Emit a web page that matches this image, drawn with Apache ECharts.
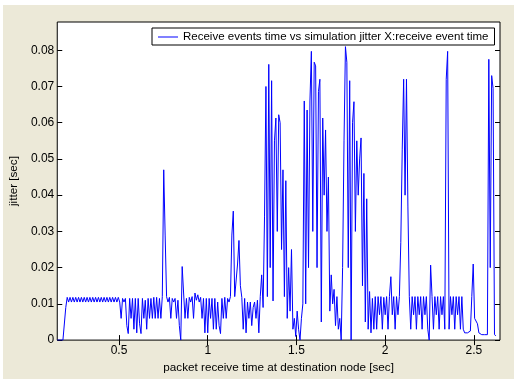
<!DOCTYPE html>
<html>
<head>
<meta charset="utf-8">
<script src="https://cdn.jsdelivr.net/npm/echarts@6/dist/echarts.min.js"></script>
<style>
html,body{margin:0;padding:0;background:#fff;}
#c{width:514px;height:379px;}
</style>
</head>
<body>
<div id="c"></div>
<script>
// sample times: start and step (sec)
const tStart = 0.152;
const tStep = 0.008;
// jitter values [sec], one per sample
const jitter = [
0,0,0,0,0,0,0.009,
0.0118,0.0105,0.0118,0.0105,0.0118,0.0105,0.0118,0.0105,0.0118,0.0105,
0.0118,0.0105,0.0118,0.0105,0.0118,0.0105,0.0118,0.0105,0.0118,0.0105,
0.0118,0.0105,0.0118,0.0105,0.0118,0.0105,0.0118,0.0105,0.0118,0.0105,
0.0118,0.0105,0.0118,0.0105,0.0118,0.0105,0.0118,0.0105,
0.006,0.0115,0.0105,0.0115,0.004,0.0018,0.0115,0.006,0.0115,0.003,
0.0115,0.002,0.0115,0.0045,0.0018,0.0115,0.006,0.011,0.003,0.0115,
0.006,0.0115,0.006,0.0118,0.006,0.0118,0.006,0.0115,0.006,0.012,
0.047,0.029,0.012,0.0105,0.0118,0.006,0.0115,0.0105,0.0115,0.006,
0.011,0.004,0.0,0.0203,0.013,0.006,0.0115,0.006,0.0118,0.0105,
0.012,0.006,0.013,0.011,0.0125,0.0105,0.0118,0.006,0.0115,0.002,
0.0115,0.002,0.0115,0.006,0.0115,0.003,0.0115,0.003,0.0105,0.004,
0.0018,0.0115,0.006,0.0118,0.006,0.0115,0.0105,0.012,0.029,0.0356,
0.012,0.0115,0.021,0.0275,0.015,0.0118,0.003,0.0115,0.002,0.0105,
0.006,0.0105,0.004,0.009,0.0105,0.006,0.011,0.002,0.012,0.018,
0.009,0.034,0.07,0.012,0.0761,0.02,0.0716,0.0108,0.055,0.0613,
0.03,0.0622,0.06,0.025,0.047,0.012,0.044,0.006,0.02,0.008,
0.025,0.003,0.006,0.001,0.008,0.003,0.0,0.006,0.01,0.066,
0.01,0.0635,0.02,0.066,0.0797,0.03,0.0767,0.0757,0.02,0.0686,
0.072,0.005,0.0613,0.04,0.058,0.03,0.045,0.008,0.018,0.01,
0.014,0.004,0.012,0.003,0.006,0.0,0.02,0.055,0.081,0.0767,
0.02,0.0716,0.0,0.06,0.0658,0.03,0.055,0.04,0.05,0.0558,
0.015,0.046,0.005,0.039,0.003,0.0134,0.002,0.0115,0.003,
0.012,0.003,0.012,0.007,0.012,0.003,0.0118,0.007,0.012,0.003,
0.012,0.0175,0.007,0.012,0.003,0.012,0.007,0.012,
0.027,0.0525,0.072,0.04,0.072,0.037,
0.012,0.003,0.012,0.007,0.012,0.003,0.012,0.007,0.012,0.003,0.012,0.007,0.012,0.003,
0.0,0.0207,
0.012,0.003,0.012,0.007,0.012,0.003,0.012,0.007,0.012,0.003,
0.072,0.0797,0.003,
0.012,0.007,0.012,0.003,0.012,0.007,0.012,0.003,0.012,0.003,
0.002,0.002,0.002,0.002,0.0025,
0.012,0.021,0.006,0.0055,0.0045,0.002,
0.0015,0.0015,0.0015,0.0015,0.0015,0.0015,
0.0775,0.02,0.073,0.0695,0.0015,0.0012
];
const xTicks = [0.5, 1, 1.5, 2, 2.5];
const yTicks = [0, 0.01, 0.02, 0.03, 0.04, 0.05, 0.06, 0.07, 0.08];
const xRange = [0.152, 2.647];
const yRange = [0, 0.0878];
const seriesName = 'Receive events time vs simulation jitter X:receive event time';
const xTitle = 'packet receive time at destination node [sec]';
const yTitle = 'jitter [sec]';

const points = jitter.map((v, i) => [+(tStart + tStep * i).toFixed(3), v]);

const font = 'Liberation Sans, Arial, sans-serif';
const chart = echarts.init(document.getElementById('c'), null, {renderer: 'canvas'});

function xAx(pos, labels) {
  return {
    type: 'value', position: pos, min: xRange[0], max: xRange[1],
    axisLine: {show: false}, splitLine: {show: false},
    axisTick: {show: true, inside: true, length: 5, customValues: xTicks, lineStyle: {color: '#000', width: 1}},
    axisLabel: {show: labels, customValues: xTicks, color: '#000', fontSize: 12, fontFamily: font, margin: 5},
    name: labels ? xTitle : '', nameLocation: 'middle', nameGap: 21,
    nameTextStyle: {color: '#000', fontSize: 11.7, fontFamily: font}
  };
}
function yAx(pos, labels) {
  return {
    type: 'value', position: pos, min: yRange[0], max: yRange[1],
    axisLine: {show: false}, splitLine: {show: false},
    axisTick: {show: true, inside: true, length: 5, customValues: yTicks, lineStyle: {color: '#000', width: 1}},
    axisLabel: {show: labels, customValues: yTicks, color: '#000', fontSize: 12, fontFamily: font, margin: 3},
    name: labels ? yTitle : '', nameLocation: 'middle', nameGap: 29,
    nameTextStyle: {color: '#000', fontSize: 11.7, fontFamily: font}
  };
}

chart.setOption({
  animation: false,
  backgroundColor: '#ECE9D8',
  graphic: [
    {type: 'rect', shape: {x: 0, y: 0, width: 514, height: 5}, style: {fill: '#fff'}, silent: true},
    {type: 'rect', shape: {x: 0, y: 0, width: 3, height: 379}, style: {fill: '#fff'}, silent: true}
  ],
  grid: {left: 48, top: 22, right: 14, bottom: 32, show: true, backgroundColor: '#fff', borderColor: '#000', borderWidth: 1},
  xAxis: [xAx('bottom', true), xAx('top', false)],
  yAxis: [yAx('left', true), yAx('right', false)],
  legend: {
    left: 152, top: 28, padding: [3, 6, 2, 6],
    itemWidth: 20, itemHeight: 1, icon: 'rect', itemGap: 5,
    backgroundColor: '#fff', borderColor: '#000', borderWidth: 1, borderRadius: 0,
    textStyle: {color: '#000', fontSize: 11.5, fontFamily: font},
    data: [seriesName]
  },
  series: [{
    name: seriesName, type: 'line', data: points,
    xAxisIndex: 0, yAxisIndex: 0,
    showSymbol: false, symbol: 'none',
    lineStyle: {color: '#0000FF', width: 1},
    itemStyle: {color: '#0000FF'},
    clip: true
  }]
});
</script>
</body>
</html>
